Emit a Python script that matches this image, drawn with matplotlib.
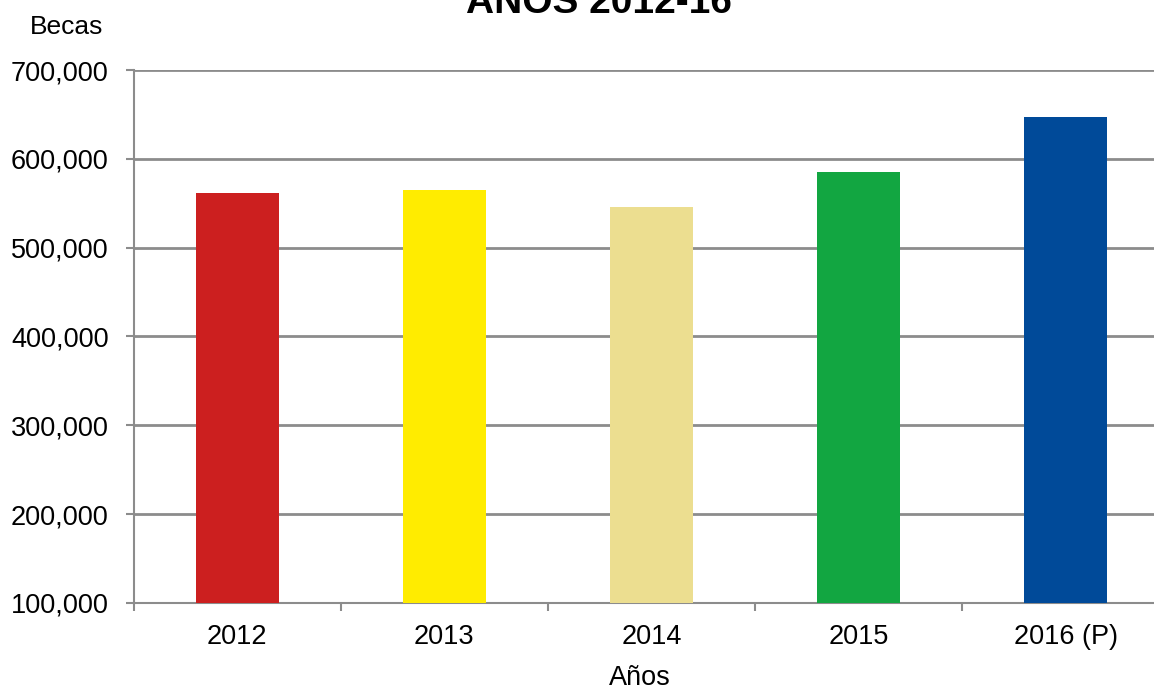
import matplotlib
matplotlib.use("Agg")
import matplotlib.pyplot as plt
from matplotlib.ticker import FuncFormatter, FixedLocator

categories = ["2012", "2013", "2014", "2015", "2016 (P)"]
values = [561500, 565000, 545800, 585200, 647100]
colors = ["#CC1F1F", "#FFEC00", "#ECDE90", "#12A641", "#004A99"]

plt.rcParams['font.family'] = ['Liberation Sans', 'DejaVu Sans']

W, H = 1154, 691
left, right, top, bottom = 133.5, 1169.5, 70, 603
fig = plt.figure(figsize=(W/100, H/100), dpi=100)
ax = fig.add_axes([left/W, 1-bottom/H, (right-left)/W, (bottom-top)/H])

x = list(range(len(categories)))
ax.bar(x, values, width=0.40, color=colors, zorder=3)
ax.set_ylim(100000, 700000)
ax.set_xlim(-0.5, len(categories)-0.5)
ax.set_yticks(range(100000, 700001, 100000))
ax.yaxis.set_major_formatter(FuncFormatter(lambda v, p: f"{int(v):,}"))
ax.grid(axis='y', color='#8c8c8c', linewidth=2, zorder=0)

ax.set_xticks(x)
ax.set_xticklabels(categories)
ax.xaxis.set_minor_locator(FixedLocator([i - 0.5 for i in range(len(categories)+1)]))
ax.tick_params(axis='x', which='major', length=0, labelsize=19.5, pad=15)
ax.tick_params(axis='x', which='minor', length=6, width=1.5, color='#8c8c8c', direction='out')
ax.tick_params(axis='y', length=6, width=1.5, color='#8c8c8c', direction='out', labelsize=19.5, pad=12)

for s in ['top', 'right']:
    ax.spines[s].set_visible(False)
for s in ['left', 'bottom']:
    ax.spines[s].set_color('#8c8c8c')
    ax.spines[s].set_linewidth(1.5)

fig.text(67/W, 1-27/H, "Becas", ha='center', va='center', fontsize=19)
fig.text(640/W, 1-678/H, "Años", ha='center', va='center', fontsize=19.5)
fig.text(599/W, 1-13/H, "AÑOS 2012-16", ha='center', va='baseline', fontsize=28, fontweight='bold')

fig.savefig("out.png", dpi=100)
